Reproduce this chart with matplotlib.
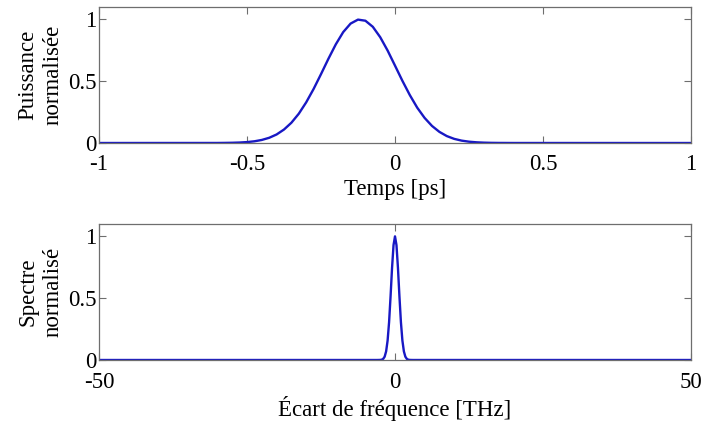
"""Impulsion normalisee et son spectre."""

import matplotlib
matplotlib.use("Agg")
import matplotlib.pyplot as plt

# Puissance normalisee
temps_ps = [-1.0, -0.6, -0.575, -0.55, -0.525, -0.5, -0.475, -0.45, -0.425, -0.4,
            -0.375, -0.35, -0.325, -0.3, -0.275, -0.25, -0.225, -0.2, -0.175,
            -0.15, -0.125, -0.1, -0.075, -0.05, -0.025, 0.0, 0.025, 0.05, 0.075,
            0.1, 0.125, 0.15, 0.175, 0.2, 0.225, 0.25, 0.275, 0.3, 0.325, 0.35,
            0.4, 1.0]
puissance = [0.0, 0.0003, 0.0009, 0.0019, 0.0038, 0.0074, 0.0138, 0.0247, 0.0422,
             0.069, 0.109, 0.164, 0.237, 0.329, 0.437, 0.557, 0.681, 0.798, 0.897,
             0.966, 0.998, 0.989, 0.940, 0.856, 0.748, 0.626, 0.503, 0.388, 0.286,
             0.203, 0.138, 0.090, 0.056, 0.0334, 0.0192, 0.0106, 0.0056, 0.0028,
             0.0013, 0.0006, 0.0001, 0.0]

# Spectre normalise
freq_thz = [-50.0, -3.0, -2.5, -2.25, -2.0, -1.75, -1.5, -1.25, -1.0, -0.75, -0.5,
            -0.25, 0.0, 0.25, 0.5, 0.75, 1.0, 1.25, 1.5, 1.75, 2.0, 2.25, 2.5,
            3.0, 50.0]
spectre = [0.0, 0.0, 0.0006, 0.0025, 0.0088, 0.0267, 0.0697, 0.157, 0.306, 0.514,
           0.744, 0.929, 1.0, 0.929, 0.744, 0.514, 0.306, 0.157, 0.0697, 0.0267,
           0.0088, 0.0025, 0.0006, 0.0, 0.0]

plt.rcParams["font.family"] = ["Liberation Serif", "DejaVu Serif"]
plt.rcParams["font.size"] = 16.5

W, H = 703, 421
fig = plt.figure(figsize=(W / 100, H / 100), dpi=100)
ax1 = fig.add_axes([99 / W, (H - 143) / H, 592 / W, 136 / H])
ax2 = fig.add_axes([99 / W, (H - 360) / H, 592 / W, 136 / H])

line_color = "#1818c4"
spine_color = "#6e6e6e"

ax1.plot(temps_ps, puissance, color=line_color, lw=1.7)
ax2.plot(freq_thz, spectre, color=line_color, lw=1.7)

ax1.set_xlim(-1, 1)
ax1.set_xticks([-1, -0.5, 0, 0.5, 1])
ax1.set_xticklabels(["-1", "-0.5", "0", "0.5", "1"])
ax1.set_xlabel("Temps [ps]", labelpad=3)
ax1.set_ylabel("Puissance\nnormalisée", labelpad=3, linespacing=1.25)

ax2.set_xlim(-50, 50)
ax2.set_xticks([-50, 0, 50])
ax2.set_xticklabels(["-50", "0", "50"])
ax2.set_xlabel("Écart de fréquence [THz]", labelpad=2)
ax2.set_ylabel("Spectre\nnormalisé", labelpad=3, linespacing=1.25)

for ax in (ax1, ax2):
    ax.set_ylim(0, 1.1)
    ax.set_yticks([0, 0.5, 1])
    ax.set_yticklabels(["0", "0.5", "1"])
    ax.tick_params(direction="in", length=5, width=0.8, color=spine_color,
                   top=True, right=True, pad=2)
    for s in ax.spines.values():
        s.set_color(spine_color)
        s.set_linewidth(0.9)

ax1.tick_params(axis="x", pad=8)
ax2.tick_params(axis="x", pad=9)

fig.savefig("out.png", dpi=100)
